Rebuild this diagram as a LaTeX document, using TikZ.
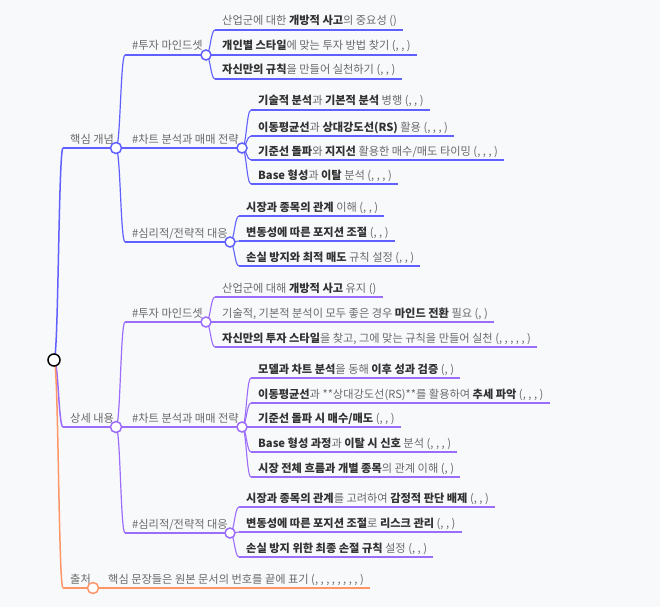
\documentclass[tikz,border=0pt]{standalone}
\usepackage{fontspec}
\setmainfont{Noto Sans CJK KR}
\usetikzlibrary{calc}
\definecolor{bgc}{RGB}{248,249,251}
\definecolor{cblue}{RGB}{96,96,255}
\definecolor{cpurp}{RGB}{156,108,250}
\definecolor{corng}{RGB}{255,150,104}
\definecolor{txtn}{RGB}{105,105,105}
\definecolor{txtd}{RGB}{50,50,50}
\newcommand{\kb}[1]{{\bfseries\color{txtd}#1}}
\newcommand{\mmlink}[3]{%
  \draw[#1] let \p1=(#2), \p2=(#3) in (\p1) .. controls ({(\x1+\x2)/2},\y1) and ({(\x1+\x2)/2},\y2) .. (\p2);}
% name, parent, xs, y, color, text
\newcommand{\mmleaf}[6]{%
  \coordinate (#1s) at (#3,#4);
  \node[mmtext, anchor=base west] (#1t) at (#3+7,#4-5) {#6};
  \mmlink{#5,leafline}{#2}{#1s}
  \draw[#5,leafline] (#1s) -- ($(#1t.east |- #1s)+(6,0)$);}
% name, parent, xs, y, circle x, color, text, linestyle
\newcommand{\mmbranch}[8]{%
  \coordinate (#1s) at (#3,#4);
  \node[mmtext, anchor=base west] (#1t) at (#3+7,#4-5) {#7};
  \mmlink{#6,#8}{#2}{#1s}
  \draw[#6,#8] (#1s) -- (#5,#4);
  \coordinate (#1) at (#5,#4);}
\tikzset{
  mmtext/.style={inner sep=0pt, text=txtn, font=\fontsize{11.2}{13}\selectfont},
  leafline/.style={line width=1.1pt},
  topline/.style={line width=1.5pt},
  midline/.style={line width=1.2pt},
  dot/.style={circle, fill=white, draw=#1, line width=1.5pt, minimum size=11pt, inner sep=0pt},
}
\begin{document}
\begin{tikzpicture}[x=1pt,y=-1pt]
\fill[bgc] (0,0) rectangle (660,607);
\useasboundingbox (0,0) rectangle (660,607);
\coordinate (root) at (54,360);

% level 1
\mmbranch{A}{root}{63}{148}{116}{cblue}{핵심 개념}{topline}
\mmbranch{B}{root}{63}{427}{116}{cpurp}{상세 내용}{topline}
\mmbranch{C}{root}{63}{588}{93}{corng}{출처}{topline}

% level 2
\mmbranch{A1}{A}{125}{55}{206}{cblue}{\#투자 마인드셋}{midline}
\mmbranch{A2}{A}{125}{148}{242}{cblue}{\#차트 분석과 매매 전략}{midline}
\mmbranch{A3}{A}{125}{242}{230}{cblue}{\#심리적/전략적 대응}{midline}
\mmbranch{B1}{B}{125}{322}{206}{cpurp}{\#투자 마인드셋}{midline}
\mmbranch{B2}{B}{125}{427}{242}{cpurp}{\#차트 분석과 매매 전략}{midline}
\mmbranch{B3}{B}{125}{533}{230}{cpurp}{\#심리적/전략적 대응}{midline}

% leaves A1
\mmleaf{Aa}{A1}{215}{30}{cblue}{산업군에 대한 \kb{개방적 사고}의 중요성 ()}
\mmleaf{Ab}{A1}{215}{55}{cblue}{\kb{개인별 스타일}에 맞는 투자 방법 찾기 (, , )}
\mmleaf{Ac}{A1}{215}{79}{cblue}{\kb{자신만의 규칙}을 만들어 실천하기 (, , )}
% leaves A2
\mmleaf{Ad}{A2}{251}{110}{cblue}{\kb{기술적 분석}과 \kb{기본적 분석} 병행 (, , )}
\mmleaf{Ae}{A2}{251}{136}{cblue}{\kb{이동평균선}과 \kb{상대강도선(RS)} 활용 (, , , )}
\mmleaf{Af}{A2}{251}{160}{cblue}{\kb{기준선 돌파}와 \kb{지지선} 활용한 매수/매도 타이밍 (, , , )}
\mmleaf{Ag}{A2}{251}{184}{cblue}{\kb{Base 형성}과 \kb{이탈} 분석 (, , , )}
% leaves A3
\mmleaf{Ah}{A3}{239}{216}{cblue}{\kb{시장과 종목의 관계} 이해 (, , )}
\mmleaf{Ai}{A3}{239}{241}{cblue}{\kb{변동성에 따른 포지션 조절} (, , )}
\mmleaf{Aj}{A3}{239}{266}{cblue}{\kb{손실 방지와 최적 매도} 규칙 설정 (, , )}
% leaves B1
\mmleaf{Ba}{B1}{215}{297}{cpurp}{산업군에 대해 \kb{개방적 사고} 유지 ()}
\mmleaf{Bb}{B1}{215}{322}{cpurp}{기술적, 기본적 분석이 모두 좋은 경우 \kb{마인드 전환} 필요 (, )}
\mmleaf{Bc}{B1}{215}{347}{cpurp}{\kb{자신만의 투자 스타일}을 찾고, 그에 맞는 규칙을 만들어 실천 (, , , , , )}
% leaves B2
\mmleaf{Bd}{B2}{251}{378}{cpurp}{\kb{모델과 차트 분석}을 동해 \kb{이후 성과 검증} (, )}
\mmleaf{Be}{B2}{251}{403}{cpurp}{\kb{이동평균선}과 **상대강도선(RS)**를 활용하여 \kb{추세 파악} (, , , )}
\mmleaf{Bf}{B2}{251}{427}{cpurp}{\kb{기준선 돌파 시 매수/매도} (, , )}
\mmleaf{Bg}{B2}{251}{452}{cpurp}{\kb{Base 형성 과정}과 \kb{이탈 시 신호} 분석 (, , , )}
\mmleaf{Bh}{B2}{251}{477}{cpurp}{\kb{시장 전체 흐름과 개별 종목}의 관계 이해 (, )}
% leaves B3
\mmleaf{Bi}{B3}{239}{507}{cpurp}{\kb{시장과 종목의 관계}를 고려하여 \kb{감정적 판단 배제} (, , )}
\mmleaf{Bj}{B3}{239}{532}{cpurp}{\kb{변동성에 따른 포지션 조절}로 \kb{리스크 관리} (, , )}
\mmleaf{Bk}{B3}{239}{557}{cpurp}{\kb{손실 방지 위한 최종 손절 규칙} 설정 (, , )}
% leaf C
\mmleaf{Ca}{C}{101}{588}{corng}{핵심 문장들은 원본 문서의 번호를 끝에 표기 (, , , , , , , , )}

% circles
\node[dot=cblue] (Ad) at (A) {};
\node[dot=cpurp] (Bd) at (B) {};
\node[dot=corng] (Cd) at (C) {};
\foreach \n in {A1,A2,A3} \node[dot=cblue, minimum size=10pt] at (\n) {};
\foreach \n in {B1,B2,B3} \node[dot=cpurp, minimum size=10pt] at (\n) {};
\node[dot=black, minimum size=12pt] (rootd) at (root) {};
\end{tikzpicture}
\end{document}
